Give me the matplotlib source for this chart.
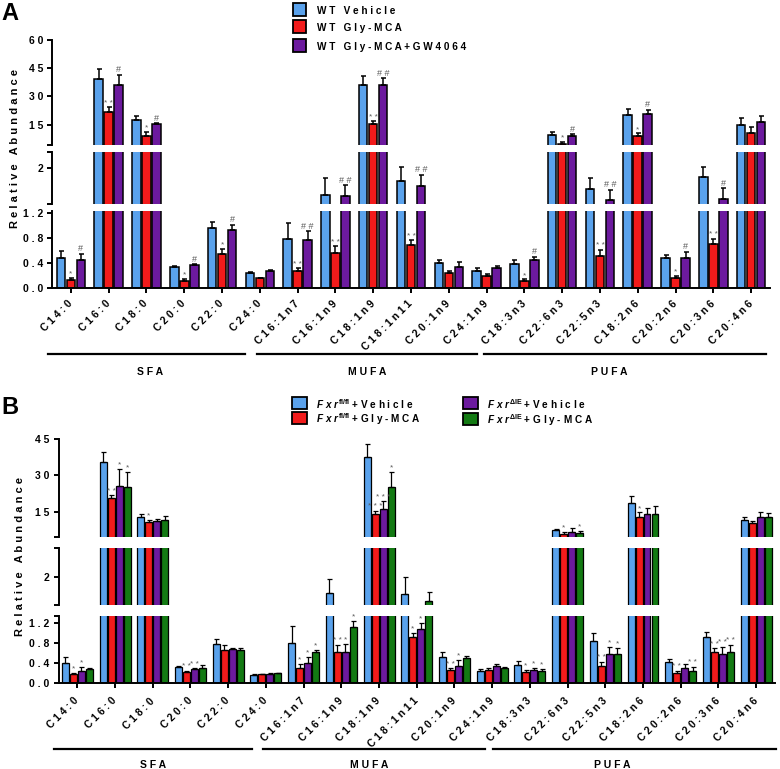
import numpy as np
import matplotlib
matplotlib.use("Agg")
import matplotlib.pyplot as plt
from matplotlib.patches import Rectangle
from matplotlib.lines import Line2D

plt.rcParams['font.family'] = ['Liberation Sans', 'DejaVu Sans']
plt.rcParams['font.weight'] = 'bold'
plt.rcParams['mathtext.fontset'] = 'custom'
plt.rcParams['mathtext.rm'] = 'Liberation Sans:bold'
plt.rcParams['mathtext.it'] = 'Liberation Sans:italic:bold'
plt.rcParams['mathtext.bf'] = 'Liberation Sans:bold'

# ---------------- data ----------------
categories = ["C14:0", "C16:0", "C18:0", "C20:0", "C22:0", "C24:0",
              "C16:1n7", "C16:1n9", "C18:1n9", "C18:1n11", "C20:1n9", "C24:1n9",
              "C18:3n3", "C22:6n3", "C22:5n3", "C18:2n6", "C20:2n6", "C20:3n6", "C20:4n6"]
group_names = ["SFA", "MUFA", "PUFA"]

# Panel A
a_labels = ["WT Vehicle", "WT Gly-MCA", "WT Gly-MCA+GW4064"]
a_vehicle = [0.48, 39.4, 17.4, 0.345, 0.95, 0.25, 0.79, 1.40, 36.1, 1.70, 0.40, 0.27,
             0.39, 9.5, 1.53, 20.0, 0.475, 1.79, 14.8]
a_vehicle_sem = [0.11, 4.8, 2.3, 0.015, 0.11, 0.01, 0.24, 0.38, 4.8, 0.32, 0.05, 0.05,
                 0.06, 1.8, 0.24, 3.4, 0.055, 0.22, 3.5]
a_gly = [0.136, 21.8, 9.0, 0.12, 0.54, 0.157, 0.27, 0.563, 15.2, 0.695, 0.235, 0.20,
         0.12, 4.8, 0.52, 9.2, 0.167, 0.71, 10.8]
a_gly_sem = [0.024, 2.4, 2.1, 0.03, 0.09, 0.013, 0.05, 0.105, 1.7, 0.065, 0.045, 0.025,
             0.02, 1.0, 0.09, 1.2, 0.033, 0.08, 3.1]
a_gw = [0.444, 36.1, 15.3, 0.366, 0.93, 0.277, 0.77, 1.38, 36.1, 1.61, 0.345, 0.32,
        0.45, 9.2, 1.29, 20.6, 0.485, 1.32, 16.4]
a_gw_sem = [0.106, 5.3, 0.5, 0.014, 0.08, 0.013, 0.14, 0.24, 3.5, 0.24, 0.065, 0.03,
            0.05, 0.7, 0.23, 2.3, 0.095, 0.23, 3.3]
a_gly_sig = ["*", "**", "*", "*", "*", "", "**", "**", "**", "**", "", "",
             "*", "*", "**", "*", "*", "**", ""]
a_gw_sig = ["#", "#", "#", "#", "#", "", "##", "##", "##", "##", "", "",
            "#", "#", "##", "#", "#", "#", ""]

# Panel B
b_labels_txt = ["Vehicle", "Gly-MCA", "Vehicle", "Gly-MCA"]
b_fl_vehicle = [0.40, 35.4, 12.7, 0.33, 0.78, 0.17, 0.80, 1.72, 37.7, 1.70, 0.53, 0.25,
                0.37, 7.4, 0.85, 18.4, 0.42, 0.93, 11.5]
b_fl_vehicle_sem = [0.12, 4.4, 1.2, 0.02, 0.10, 0.02, 0.34, 0.24, 5.2, 0.29, 0.10, 0.04,
                    0.08, 0.3, 0.15, 3.2, 0.06, 0.10, 1.2]
b_fl_gly = [0.18, 20.8, 10.6, 0.235, 0.67, 0.18, 0.31, 0.63, 13.9, 0.93, 0.27, 0.27,
            0.235, 5.8, 0.35, 12.7, 0.215, 0.63, 10.4]
b_fl_gly_sem = [0.03, 1.1, 0.9, 0.015, 0.09, 0.01, 0.08, 0.14, 1.5, 0.07, 0.03, 0.04,
                0.035, 0.9, 0.08, 2.0, 0.035, 0.07, 0.7]
b_ie_vehicle = [0.25, 25.7, 11.1, 0.28, 0.68, 0.19, 0.40, 0.63, 16.0, 1.09, 0.35, 0.35,
                0.27, 6.5, 0.59, 14.1, 0.30, 0.59, 12.9]
b_ie_vehicle_sem = [0.08, 6.8, 0.7, 0.02, 0.03, 0.01, 0.13, 0.15, 3.4, 0.12, 0.12, 0.03,
                    0.04, 1.6, 0.13, 2.3, 0.09, 0.14, 1.8]
b_ie_gly = [0.28, 25.0, 11.5, 0.30, 0.67, 0.20, 0.62, 1.13, 25.3, 1.58, 0.50, 0.31,
            0.255, 6.1, 0.58, 14.0, 0.255, 0.62, 12.7]
b_ie_gly_sem = [0.03, 6.5, 1.8, 0.07, 0.03, 0.01, 0.05, 0.11, 6.2, 0.15, 0.05, 0.02,
                0.035, 0.9, 0.12, 3.3, 0.075, 0.15, 1.6]
b_fl_gly_sig = ["*", "**", "*", "**", "", "", "*", "**", "***", "*", "**", "",
                "*", "*", "**", "*", "**", "**", ""]
b_ie_vehicle_sig = ["*", "*", "", "**", "", "", "*", "*", "***", "*", "*", "",
                    "*", "", "*", "", "", "**", ""]
b_ie_gly_sig = ["", "*", "", "", "", "", "*", "*", "*", "", "", "",
                "*", "*", "*", "", "**", "**", ""]

# ---------------- style ----------------
c_blue = "#5AA2EC"
c_red = "#F21B1B"
c_purple = "#6C1A9E"
c_green = "#137A13"

W, H = 780, 769
fig = plt.figure(figsize=(W / 100, H / 100), dpi=100)


def sp(s):
    return " ".join(s)


def fx(px):
    return px / W


def fy(py):
    return 1 - py / H


x = np.arange(len(categories))


def fmt_tick(v):
    if abs(v - round(v)) < 1e-9 and v >= 2:
        return sp(str(int(round(v))))
    return sp(f"{v:.1f}")


def draw_panel(left, right, segs, series, offsets, width, elw, ylab_xy, label_pad):
    axes = []
    nseg = len(segs)
    for si, (top_px, bot_px, lo, hi, ticks, labelled) in enumerate(segs):
        ax = fig.add_axes([fx(left), fy(bot_px), fx(right - left), (bot_px - top_px) / H])
        for k, (vals, sems, col, sig) in enumerate(series):
            vals = np.asarray(vals, float)
            sems = np.asarray(sems, float)
            ax.bar(x + offsets[k], vals, width, color=col, edgecolor="black", linewidth=elw,
                   yerr=[np.zeros_like(sems), sems],
                   error_kw=dict(ecolor="black", elinewidth=elw, capsize=1.8, capthick=elw),
                   zorder=2)
            if sig is not None:
                for i, s in enumerate(sig):
                    if not s:
                        continue
                    t = vals[i] + sems[i]
                    if lo <= t <= hi:
                        fs = 6.5 if "#" in s else 6
                        ax.annotate(sp(s), (x[i] + offsets[k], t), xytext=(0, 0.3),
                                    textcoords="offset points", ha="center", va="bottom",
                                    fontsize=fs, color="#5a5a5a", fontweight="normal",
                                    annotation_clip=False)
        ax.set_xlim(-0.5, 18.5)
        ax.set_ylim(lo, hi)
        for s in ["top", "right"]:
            ax.spines[s].set_visible(False)
        ax.spines["left"].set_linewidth(1.4)
        ax.set_yticks(ticks)
        ax.set_yticklabels([fmt_tick(t) if t in labelled else "" for t in ticks], fontsize=7.5)
        ax.tick_params(axis="y", length=3.5, width=1.4, pad=3)
        ax.patch.set_alpha(0)
        if si == nseg - 1:
            ax.spines["bottom"].set_linewidth(1.4)
            ax.set_xticks(x)
            ax.set_xticklabels([sp(c) for c in categories], rotation=45, ha="right", va="center",
                               rotation_mode="anchor", fontsize=7.5)
            ax.tick_params(axis="x", length=3.5, width=1.4, pad=label_pad)
        else:
            ax.spines["bottom"].set_visible(False)
            ax.set_xticks([])
        axes.append(ax)
    fig.text(fx(ylab_xy[0]), fy(ylab_xy[1]), sp("Relative Abundance"),
             rotation=90, ha="center", va="center", fontsize=8)
    return axes


# ---------------- Panel A ----------------
a_segs = [
    (39.5, 145.0, 4.3, 60.0, [4.3, 15, 30, 45, 60], [15, 30, 45, 60]),
    (152.3, 204.3, 1.2, 2.34, [1.2, 2.0, 2.34], [2.0]),
    (211.0, 288.3, 0.0, 1.227, [0.0, 0.4, 0.8, 1.2], [0.0, 0.4, 0.8, 1.2]),
]
a_series = [(a_vehicle, a_vehicle_sem, c_blue, None),
            (a_gly, a_gly_sem, c_red, a_gly_sig),
            (a_gw, a_gw_sem, c_purple, a_gw_sig)]
axA = draw_panel(52, 770, a_segs, a_series, [-0.265, 0.0, 0.265], 0.225, 1.1, (15, 148), 6.5)

# ---------------- Panel B ----------------
b_segs = [
    (439.0, 537.3, 4.4, 45.0, [4.4, 15, 30, 45], [15, 30, 45]),
    (548.3, 605.3, 1.5, 2.5, [1.5, 2.0, 2.5], [2.0]),
    (616.0, 683.3, 0.0, 1.346, [0.0, 0.4, 0.8, 1.2, 1.346], [0.0, 0.4, 0.8, 1.2]),
]
b_series = [(b_fl_vehicle, b_fl_vehicle_sem, c_blue, None),
            (b_fl_gly, b_fl_gly_sem, c_red, b_fl_gly_sig),
            (b_ie_vehicle, b_ie_vehicle_sem, c_purple, b_ie_vehicle_sig),
            (b_ie_gly, b_ie_gly_sem, c_green, b_ie_gly_sig)]
pitch = 0.212
axB = draw_panel(58.5, 775, b_segs, b_series, [-1.5 * pitch, -0.5 * pitch, 0.5 * pitch, 1.5 * pitch],
                 0.185, 0.9, (20, 557), 8)


# group brackets drawn in figure pixel space
def brackets(line_y, text_y, spans, text_x):
    for (a, b), tx, name in zip(spans, text_x, group_names):
        fig.add_artist(Line2D([fx(a), fx(b)], [fy(line_y), fy(line_y)], transform=fig.transFigure,
                              color="black", lw=1.6))
        fig.text(fx(tx), fy(text_y), sp(name), ha="center", va="center", fontsize=7.5)


brackets(354.3, 372.3, [(47.5, 245), (256.5, 476.5), (484, 766)], [150, 367, 609])
brackets(748.7, 765.5, [(53.5, 251.5), (262.5, 485), (492.5, 776)], [153, 369, 612])

# ---------------- legends ----------------
for i, (lab, col) in enumerate(zip(a_labels, [c_blue, c_red, c_purple])):
    cy = [9.7, 26.7, 45.5][i]
    fig.add_artist(Rectangle((fx(293), fy(cy + 6.2)), fx(13), 12.4 / H, transform=fig.transFigure,
                             facecolor=col, edgecolor="black", lw=1.3))
    fig.text(fx(317), fy(cy + 1.5), sp(lab), ha="left", va="center", fontsize=7.2)

b_geno = [r"$\mathit{F\ x\ r}^{\mathrm{fl/fl}}$", r"$\mathit{F\ x\ r}^{\mathrm{fl/fl}}$",
          r"$\mathit{F\ x\ r}^{\Delta\mathrm{IE}}$", r"$\mathit{F\ x\ r}^{\Delta\mathrm{IE}}$"]
b_cols = [c_blue, c_red, c_purple, c_green]
b_pos = [(292, 403, 316), (292, 418, 316), (463, 403, 487), (463, 418.5, 487)]
for g, t, col, (bx, cy, tx) in zip(b_geno, b_labels_txt, b_cols, b_pos):
    fig.add_artist(Rectangle((fx(bx), fy(cy + 6)), fx(15), 12 / H, transform=fig.transFigure,
                             facecolor=col, edgecolor="black", lw=1.3))
    fig.text(fx(tx), fy(cy + 1.5), g + " + " + sp(t), ha="left", va="center", fontsize=7.2)

# panel letters
fig.text(fx(1), fy(14), "A", fontsize=17, fontweight="bold", ha="left", va="center")
fig.text(fx(1), fy(407), "B", fontsize=17, fontweight="bold", ha="left", va="center")

fig.savefig("out.png", dpi=100)
